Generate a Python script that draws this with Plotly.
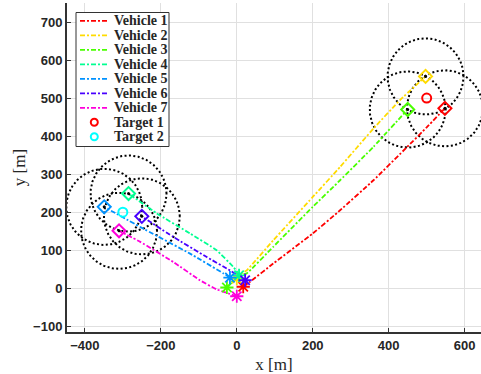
import numpy as np
import plotly.graph_objects as go

# Vehicle trajectories (start -> final formation slot), metres
veh_names = ["Vehicle 1", "Vehicle 2", "Vehicle 3", "Vehicle 4",
             "Vehicle 5", "Vehicle 6", "Vehicle 7"]
veh_colors = ["#ff0000", "#ffdb00", "#49ff00", "#00ff92",
              "#0092ff", "#4900ff", "#ff00db"]

v1_x = [17, 35, 96, 200, 272, 360, 447, 500, 548]
v1_y = [4, 17, 65, 144, 205, 284, 370, 423, 473]
v2_x = [0, 4, 26, 96, 200, 272, 360, 430, 497]
v2_y = [25, 34, 47, 126, 240, 319, 420, 495, 557]
v3_x = [-26, 4, 26, 96, 200, 272, 360, 450]
v3_y = [2, 34, 39, 109, 214, 284, 372, 470]
v4_x = [6, 4, -9, -53, -123, -211, -285]
v4_y = [34, 39, 56, 100, 144, 197, 249]
v5_x = [-18, -35, -123, -254, -349]
v5_y = [28, 39, 91, 161, 214]
v6_x = [22, -18, -79, -167, -250]
v6_y = [21, 47, 82, 135, 189]
v7_x = [0, -53, -97, -167, -254, -310]
v7_y = [-21, -3, 21, 69, 122, 151]

paths_x = [v1_x, v2_x, v3_x, v4_x, v5_x, v6_x, v7_x]
paths_y = [v1_y, v2_y, v3_y, v4_y, v5_y, v6_y, v7_y]

# Targets
target_names = ["Target 1", "Target 2"]
target_x = [500, -300]
target_y = [500, 200]
target_colors = ["#ff0000", "#00ffff"]

# Sensing radius around each vehicle's final position
sense_radius = 100

x_ticks = [-400, -200, 0, 200, 400, 600]
y_ticks = [-100, 0, 100, 200, 300, 400, 500, 600, 700]

DASHDOT = "5px,2px,2px,2px"
DOTTED = "2px,2.4px"

fig = go.Figure()

# Sensing circles (dotted), drawn underneath everything else
theta = np.linspace(0, 2 * np.pi, 361)
for px, py in zip(paths_x, paths_y):
    cx, cy = px[-1], py[-1]
    fig.add_trace(go.Scatter(
        x=cx + sense_radius * np.cos(theta), y=cy + sense_radius * np.sin(theta),
        mode="lines", line=dict(color="black", width=2, dash=DOTTED),
        showlegend=False, hoverinfo="skip"))

# Trajectories
for name, col, px, py in zip(veh_names, veh_colors, paths_x, paths_y):
    fig.add_trace(go.Scatter(
        x=px, y=py, mode="lines", name=name, showlegend=False,
        line=dict(color=col, width=1.8, dash=DASHDOT, shape="spline", smoothing=0.3)))

# Start (asterisk) and final (diamond) positions
for col, px, py in zip(veh_colors, paths_x, paths_y):
    fig.add_trace(go.Scatter(
        x=[px[0]], y=[py[0]], mode="markers", showlegend=False,
        marker=dict(symbol="asterisk-open", size=11, color=col,
                    line=dict(color=col, width=1.8))))
    fig.add_trace(go.Scatter(
        x=[px[-1]], y=[py[-1]], mode="markers", showlegend=False,
        marker=dict(symbol="diamond-open", size=10, color=col,
                    line=dict(color=col, width=2))))
    fig.add_trace(go.Scatter(
        x=[px[-1]], y=[py[-1]], mode="markers", showlegend=False,
        marker=dict(symbol="circle", size=3, color="black")))

# Targets
for name, tx, ty, col in zip(target_names, target_x, target_y, target_colors):
    fig.add_trace(go.Scatter(
        x=[tx], y=[ty], mode="markers", name=name, showlegend=False,
        marker=dict(symbol="circle-open", size=9, color=col,
                    line=dict(color=col, width=2))))

# Compact boxed legend in the upper-left corner (pixel layout -> paper coords)
W, H = 481, 374
ML, MR, MT, MB = 67, 0, 3, 42
PW, PH = W - ML - MR, H - MT - MB


def pxx(p):
    return (p - ML) / PW


def pxy(p):
    return (H - MB - p) / PH


leg_left, leg_right, leg_top, leg_bottom = 76, 169, 12.5, 146.5
row0, row_step = 20.8, 14.5
shapes = [dict(type="rect", xref="paper", yref="paper",
               x0=pxx(leg_left), x1=pxx(leg_right), y0=pxy(leg_bottom), y1=pxy(leg_top),
               line=dict(color="#333333", width=1), fillcolor="white", layer="above")]
annotations = []
leg_labels = veh_names + target_names
for i, label in enumerate(leg_labels):
    yc = row0 + i * row_step
    if i < len(veh_names):
        shapes.append(dict(type="line", xref="paper", yref="paper",
                           x0=pxx(80), x1=pxx(108), y0=pxy(yc), y1=pxy(yc),
                           line=dict(color=veh_colors[i], width=1.8, dash=DASHDOT),
                           layer="above"))
    else:
        col = target_colors[i - len(veh_names)]
        shapes.append(dict(type="circle", xref="paper", yref="paper",
                           xsizemode="pixel", ysizemode="pixel",
                           xanchor=pxx(94.3), yanchor=pxy(yc),
                           x0=-3.5, x1=3.5, y0=-3.5, y1=3.5,
                           line=dict(color=col, width=2), layer="above"))
    annotations.append(dict(
        xref="paper", yref="paper", x=pxx(111.5), y=pxy(yc),
        xanchor="left", yanchor="middle", showarrow=False, text=label,
        font=dict(family="Liberation Serif", size=14, color="#262626", weight="bold")))

axis_common = dict(
    showgrid=True, gridcolor="#e0e0e0", gridwidth=1,
    zeroline=False, showline=True, linecolor="#333333", linewidth=2,
    ticks="inside", ticklen=4, tickcolor="#333333",
    tickfont=dict(family="Liberation Sans", size=13, color="#262626", weight="bold"),
)

fig.update_layout(
    width=W, height=H,
    margin=dict(l=ML, r=MR, t=MT, b=MB),
    plot_bgcolor="white", paper_bgcolor="white",
    xaxis=dict(range=[-447, 643], tickvals=x_ticks, **axis_common,
               title=dict(text="x [m]", standoff=8,
                          font=dict(family="Liberation Serif", size=17, color="#262626"))),
    yaxis=dict(range=[-115, 750], tickvals=y_ticks, **axis_common,
               title=dict(text="y [m]", standoff=3,
                          font=dict(family="Liberation Serif", size=17, color="#262626"))),
    shapes=shapes,
    annotations=annotations,
    showlegend=False,
)

fig.write_html("out.html")
